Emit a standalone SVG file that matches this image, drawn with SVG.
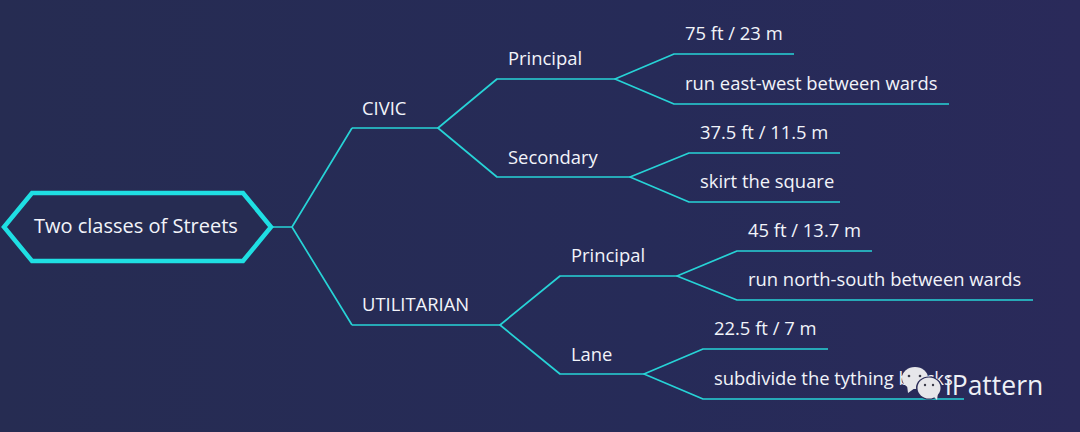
<svg xmlns="http://www.w3.org/2000/svg" width="1080" height="432" viewBox="0 0 1080 432">
<style>
.l{font-family:"Open Sans","Noto Sans",sans-serif;font-size:18.4px;fill:#f2f4fa}
.c{fill:none;stroke:#27d3d6;stroke-width:1.7;stroke-linejoin:round}
.b{fill:#e6e6ea}
.e{fill:#3a3a48}
</style>
<defs>
<linearGradient id="bg" x1="0" y1="0" x2="1" y2="0"><stop offset="0" stop-color="#262c52"/><stop offset="0.6" stop-color="#262b58"/><stop offset="1" stop-color="#2a2a5a"/></linearGradient>
</defs>
<rect width="1080" height="432" fill="url(#bg)"/>
<g id="connectors">
<path class="c" d="M272 227H292M352 128L292 227L352 325M352 128H438M352 325H500"/>
<path class="c" d="M615 79H497L438 128L497 177H630"/>
<path class="c" d="M794 54H674L615 79L674 104H949"/>
<path class="c" d="M840 153H689L630 177L689 202H840"/>
<path class="c" d="M677 276H560L500 325L560 374H644"/>
<path class="c" d="M872 251H737L677 276L737 300H1033"/>
<path class="c" d="M828 349H703L644 374L703 399H964"/>
</g>
<g id="root"><polygon points="4,227 32,193 243,193 271,227 243,261 32,261" fill="#262c52" stroke="#1fdfe3" stroke-width="4.5"/><text class="l" x="34" y="233" style="font-size:20px">Two classes of Streets</text></g>
<g id="civic"><text class="l" x="362" y="115">CIVIC</text></g>
<g id="utilitarian"><text class="l" x="362" y="311">UTILITARIAN</text></g>
<g id="civic-principal"><text class="l" x="508" y="65">Principal</text></g>
<g id="civic-secondary"><text class="l" x="508" y="164">Secondary</text></g>
<g id="util-principal"><text class="l" x="571" y="262">Principal</text></g>
<g id="util-lane"><text class="l" x="571" y="361">Lane</text></g>
<g id="n1"><text class="l" x="685" y="40">75 ft / 23 m</text></g>
<g id="n2"><text class="l" x="685" y="90">run east-west between wards</text></g>
<g id="n3"><text class="l" x="700" y="139">37.5 ft / 11.5 m</text></g>
<g id="n4"><text class="l" x="700" y="188">skirt the square</text></g>
<g id="n5"><text class="l" x="748" y="237">45 ft / 13.7 m</text></g>
<g id="n6"><text class="l" x="748" y="286">run north-south between wards</text></g>
<g id="n7"><text class="l" x="714" y="335">22.5 ft / 7 m</text></g>
<g id="n8"><text class="l" x="714" y="385">subdivide the tything blocks</text></g>
<g id="watermark">
<ellipse class="b" cx="915" cy="378" rx="13" ry="11"/><path class="b" d="M907 385L908 393L915 388Z"/>
<ellipse cx="929" cy="388" rx="13" ry="11.5" fill="#2a2b58"/>
<ellipse class="b" cx="929" cy="388" rx="11.5" ry="10.5"/><path class="b" d="M933 396L937 400L938 393Z"/>
<circle class="e" cx="909" cy="376" r="1.3"/><circle class="e" cx="920" cy="376" r="1.3"/>
<circle class="e" cx="925" cy="385" r="1.2"/><circle class="e" cx="933" cy="385" r="1.2"/>
<text x="945" y="395" style="font-family:'Open Sans','Noto Sans',sans-serif;font-size:26.5px;fill:#eef0f6">iPattern</text>
</g>
</svg>
